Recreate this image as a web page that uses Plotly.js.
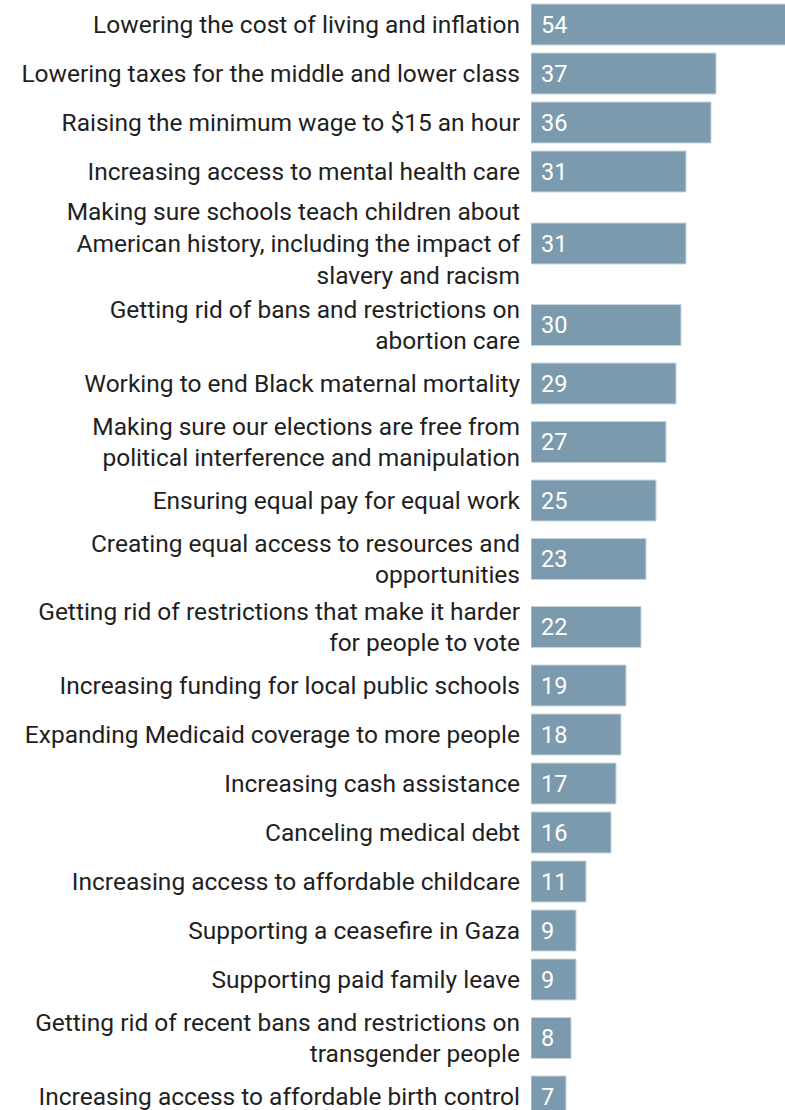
<!DOCTYPE html>
<html>
<head>
<meta charset="utf-8">
<script src="https://cdn.plot.ly/plotly-3.0.1.min.js"></script>
<style>
  html, body { margin: 0; padding: 0; background: #ffffff; }
  #chart { width: 785px; height: 1110px; }
</style>
</head>
<body>
<div id="chart"></div>
<script>
// ---- Data ----
const labels = [
  "Lowering the cost of living and inflation",
  "Lowering taxes for the middle and lower class",
  "Raising the minimum wage to $15 an hour",
  "Increasing access to mental health care",
  "Making sure schools teach children about<br>American history, including the impact of<br>slavery and racism",
  "Getting rid of bans and restrictions on<br>abortion care",
  "Working to end Black maternal mortality",
  "Making sure our elections are free from<br>political interference and manipulation",
  "Ensuring equal pay for equal work",
  "Creating equal access to resources and<br>opportunities",
  "Getting rid of restrictions that make it harder<br>for people to vote",
  "Increasing funding for local public schools",
  "Expanding Medicaid coverage to more people",
  "Increasing cash assistance",
  "Canceling medical debt",
  "Increasing access to affordable childcare",
  "Supporting a ceasefire in Gaza",
  "Supporting paid family leave",
  "Getting rid of recent bans and restrictions on<br>transgender people",
  "Increasing access to affordable birth control"
];
const values = [54, 37, 36, 31, 31, 30, 29, 27, 25, 23, 22, 19, 18, 17, 16, 11, 9, 9, 8, 7];

// ---- Layout helpers: row height depends on number of label lines ----
function rowHeight(lines) {
  if (lines === 1) return 49;
  if (lines === 2) return 68;
  return 95;
}
const lineCounts = labels.map(l => l.split("<br>").length);
const ypos = [];
let cursor = 0;
lineCounts.forEach((n, i) => {
  const h = rowHeight(n);
  ypos.push(cursor + h / 2);
  cursor += h;
});

const barColor = "#7b9aad";
const fontFamily = "Roboto, 'Noto Sans', Arial, sans-serif";

const trace = {
  type: "bar",
  orientation: "h",
  x: values,
  y: ypos,
  width: 41,
  marker: { color: barColor, line: { color: "#c9d6de", width: 1 } },
  hoverinfo: "skip"
};

const annotations = values.map((v, i) => ({
  xref: "x", yref: "y",
  x: 0, y: ypos[i],
  xanchor: "left", yanchor: "middle",
  xshift: 8,
  text: String(v),
  showarrow: false,
  font: { family: fontFamily, size: 23.5, color: "#ffffff" }
}));

const layout = {
  width: 785,
  height: 1110,
  margin: { l: 531, r: 0, t: 0, b: 0, pad: 0 },
  paper_bgcolor: "#ffffff",
  plot_bgcolor: "#ffffff",
  showlegend: false,
  xaxis: {
    range: [0, 50.8],
    visible: false,
    fixedrange: true
  },
  yaxis: {
    range: [1110, 0],
    tickmode: "array",
    tickvals: ypos,
    ticktext: labels,
    showgrid: false,
    zeroline: false,
    showline: false,
    ticks: "",
    ticklabelstandoff: 10,
    ticklabeloverflow: "allow",
    tickfont: { family: fontFamily, size: 24.5, color: "#1f1f1f" },
    fixedrange: true
  },
  annotations: annotations
};

Plotly.newPlot("chart", [trace], layout, { displayModeBar: false, staticPlot: true });
</script>
</body>
</html>
